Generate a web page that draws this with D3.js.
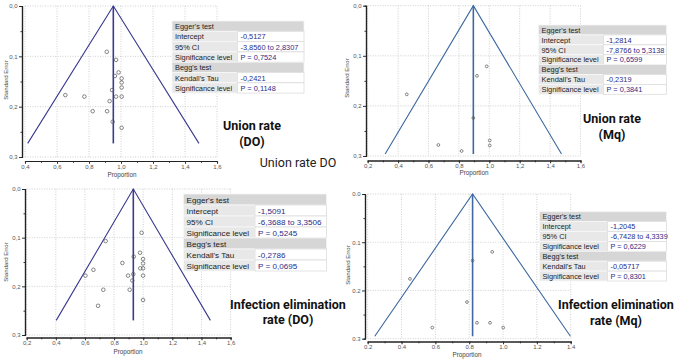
<!DOCTYPE html>
<html>
<head>
<meta charset="utf-8">
<script src="https://cdn.jsdelivr.net/npm/d3@7"></script>
<style>
  body { margin: 0; background: #fff; }
  svg { display: block; }
</style>
</head>
<body>
<div id="chart"></div>
<script>
// tick values
var xTicksA = [0.4, 0.6, 0.8, 1.0, 1.2, 1.4, 1.6]
var xTicksB = [0.2, 0.4, 0.6, 0.8, 1.0, 1.2, 1.4, 1.6]
var xTicksC = [0.2, 0.4, 0.6, 0.8, 1.0, 1.2, 1.4]
var seTicks = [0, 0.1, 0.2, 0.3]

// studies: proportion / standard error
var unionDO_p  = [0.911, 0.969, 0.985, 0.962, 1.004, 1.004, 1.004, 0.944, 0.652, 0.771, 0.969, 1.004, 0.929, 0.823, 0.913, 0.948, 1.004]
var unionDO_se = [0.091, 0.107, 0.132, 0.139, 0.144, 0.152, 0.162, 0.167, 0.177, 0.180, 0.180, 0.180, 0.189, 0.209, 0.209, 0.230, 0.242]

var unionMq_p  = [0.457, 0.983, 0.919, 0.895, 0.665, 0.818, 1.003, 1.003]
var unionMq_se = [0.177, 0.121, 0.140, 0.224, 0.278, 0.290, 0.269, 0.279]

var infDO_p  = [0.989, 0.742, 0.978, 0.935, 0.999, 0.999, 0.857, 0.999, 0.980, 0.658, 0.603, 0.896, 0.999, 0.932, 0.925, 0.726, 0.907, 0.999, 0.690]
var infDO_se = [0.090, 0.107, 0.131, 0.139, 0.144, 0.153, 0.152, 0.163, 0.163, 0.166, 0.178, 0.178, 0.178, 0.175, 0.188, 0.207, 0.207, 0.228, 0.240]

var infMq_p  = [0.936, 0.820, 0.450, 0.787, 0.846, 0.923, 0.582, 1.001]
var infMq_se = [0.120, 0.138, 0.176, 0.224, 0.267, 0.267, 0.277, 0.277]

// pooled proportion and deepest standard error of the funnel
var pooled = [0.952, 0.895, 0.932, 0.820]
var seMax  = [0.273, 0.296, 0.270, 0.295]

// Egger / Begg tables
var tableLabels = ["Egger's test", "Intercept", "95% CI", "Significance level", "Begg's test", "Kendall's Tau", "Significance level"]
var tableValues = [
  ["-0,5127", "-3,8560 to 2,8307", "P = 0,7524", "-0,2421", "P = 0,1148"],
  ["-1,2814", "-7,8766 to 5,3138", "P = 0,6599", "-0,2319", "P = 0,3841"],
  ["-1,5091", "-6,3688 to 3,3506", "P = 0,5245", "-0,2786", "P = 0,0695"],
  ["-1,2045", "-6,7428 to 4,3339", "P = 0,6229", "-0,05717", "P = 0,8301"]
]

var titles = [
  ["Union rate", "(DO)"],
  ["Union rate", "(Mq)"],
  ["Infection elimination", "rate (DO)"],
  ["Infection elimination", "rate (Mq)"]
]
var caption = "Union rate DO"

var svg = d3.select("#chart")
    .append("svg")
    .attr("width", 676)
    .attr("height", 360)

// layout of the four panels
var panels = [
  { p: unionDO_p, se: unionDO_se, ticks: xTicksA, x0: 25, x1: 217, y0: 6, y1: 157, axY: 161, axX: 22,
    color: "#3a3a8e", comma: true, r: 1.8, lblX: 122, lblY: 176.5, seX: 8, seY: 80,
    tb: { x: 172, y: 21, w: 132, lw: 65.5, rh: 10.3, fs: 7.4 },
    tt: { x: 252, y1: 130, y2: 146 } },
  { p: unionMq_p, se: unionMq_se, ticks: xTicksB, x0: 367.7, x1: 580.5, y0: 5.7, y1: 156, axY: 160.5, axX: 366,
    color: "#3d69a0", comma: true, r: 1.4, lblX: 474, lblY: 175, seX: 349, seY: 78,
    tb: { x: 538.5, y: 25, w: 128, lw: 65, rh: 9.9, fs: 7.4 },
    tt: { x: 612, y1: 123, y2: 139 } },
  { p: infDO_p, se: infDO_se, ticks: xTicksB, x0: 26.7, x1: 230.6, y0: 189, y1: 335, axY: 337.5, axX: 25,
    color: "#3a3a8e", comma: true, r: 1.8, lblX: 128, lblY: 353.5, seX: 8, seY: 262,
    tb: { x: 183.5, y: 194, w: 143, lw: 71.5, rh: 11, fs: 8.1 },
    tt: { x: 288, y1: 309, y2: 324 } },
  { p: infMq_p, se: infMq_se, ticks: xTicksC, x0: 367.7, x1: 570.7, y0: 194, y1: 338.7, axY: 341.5, axX: 365,
    color: "#3d69a0", comma: false, r: 1.4, lblX: 467, lblY: 357, seX: 350, seY: 265,
    tb: { x: 539.5, y: 211.7, w: 127, lw: 68, rh: 9.9, fs: 7.3 },
    tt: { x: 616, y1: 309, y2: 325 } }
]

panels.forEach(function(c, k) {
  var g = svg.append("g")
  var x = d3.scaleLinear().domain(d3.extent(c.ticks)).range([c.x0, c.x1])
  var y = d3.scaleLinear().domain([0, 0.3]).range([c.y0, c.y1])
  var fmt = function(d) {
    var s = d3.format(".1f")(d)
    return c.comma ? s.replace(".", ",") : s
  }

  // dotted grid
  g.selectAll(".gx").data(c.ticks).enter().append("line")
      .attr("x1", d => x(d)).attr("x2", d => x(d))
      .attr("y1", y(0)).attr("y2", y(0.3))
      .style("stroke", "#c4c4c4").style("stroke-width", 0.8).style("stroke-dasharray", "1,1.5")
  g.selectAll(".gy").data(seTicks).enter().append("line")
      .attr("x1", x.range()[0]).attr("x2", x.range()[1])
      .attr("y1", d => y(d)).attr("y2", d => y(d))
      .style("stroke", "#c4c4c4").style("stroke-width", 0.8).style("stroke-dasharray", "1,1.5")

  // axes
  var minor = d3.range(c.ticks[0], c.ticks[c.ticks.length - 1] + 0.001, 0.1)
  g.append("g")
      .attr("transform", "translate(0," + c.axY + ")")
      .call(d3.axisBottom(x).tickValues(minor).tickSize(1.8).tickFormat(""))
  g.append("g")
      .attr("transform", "translate(0," + c.axY + ")")
      .call(d3.axisBottom(x).tickValues(c.ticks).tickSize(2.8).tickSizeOuter(0).tickPadding(0.5).tickFormat(fmt))
  g.append("g")
      .attr("transform", "translate(" + c.axX + ",0)")
      .call(d3.axisLeft(y).tickValues(seTicks).tickSize(3).tickSizeOuter(0).tickPadding(1.5).tickFormat(fmt))
  g.append("g")
      .attr("transform", "translate(" + c.axX + ",0)")
      .call(d3.axisLeft(y).tickValues([0.05, 0.15, 0.25]).tickSize(1.5).tickFormat(""))
  g.selectAll(".domain").style("stroke", "#222").style("stroke-width", 1.2)
  g.selectAll(".tick line").style("stroke", "#333")
  g.selectAll(".tick text")
      .style("font-family", "Liberation Sans, Arial, sans-serif")
      .style("font-size", "6px")
      .style("fill", "#555")

  g.append("text")
      .attr("x", c.lblX).attr("y", c.lblY)
      .attr("text-anchor", "middle")
      .style("font-family", "Liberation Sans, Arial, sans-serif")
      .style("font-size", "6.3px").style("fill", "#444")
      .text("Proportion")
  g.append("text")
      .attr("transform", "translate(" + c.seX + "," + c.seY + ") rotate(-90)")
      .attr("text-anchor", "middle")
      .style("font-family", "Liberation Sans, Arial, sans-serif")
      .style("font-size", "6px").style("fill", "#444")
      .text("Standard Error")

  // funnel
  var m = pooled[k], s = seMax[k]
  var funnel = d3.line().x(d => x(d[0])).y(d => y(d[1]))
  g.append("path")
      .attr("d", funnel([[m - 1.96 * s, s], [m, 0], [m + 1.96 * s, s]]))
      .style("fill", "none").style("stroke", c.color).style("stroke-width", 1.1)
  g.append("path")
      .attr("d", funnel([[m, 0], [m, s]]))
      .style("fill", "none").style("stroke", c.color).style("stroke-width", 1.6)

  // studies
  g.selectAll(".pt").data(c.p).enter().append("circle")
      .attr("cx", d => x(d))
      .attr("cy", (d, i) => y(c.se[i]))
      .attr("r", c.r)
      .style("fill", "none")
      .style("stroke", "#555")
      .style("stroke-width", 0.7)

  // Egger / Begg table
  var t = c.tb
  var tg = svg.append("g")
  tableLabels.forEach(function(lab, i) {
    var yy = t.y + i * t.rh
    var header = (i == 0 || i == 4)
    if (header) {
      tg.append("rect").attr("x", t.x).attr("y", yy).attr("width", t.w).attr("height", t.rh)
          .style("fill", "#d6d6d6").style("stroke", "#f4f4f4").style("stroke-width", 0.8)
    } else {
      tg.append("rect").attr("x", t.x).attr("y", yy).attr("width", t.lw).attr("height", t.rh)
          .style("fill", "#e8e8e8").style("stroke", "#f8f8f8").style("stroke-width", 0.8)
      tg.append("rect").attr("x", t.x + t.lw).attr("y", yy).attr("width", t.w - t.lw).attr("height", t.rh)
          .style("fill", "#ffffff").style("stroke", "#dcdcdc").style("stroke-width", 0.8)
    }
    tg.append("text")
        .attr("x", t.x + 3).attr("y", yy + t.rh * 0.78)
        .style("font-family", "Liberation Sans, Arial, sans-serif")
        .style("font-size", t.fs + "px").style("fill", "#222")
        .text(lab)
  })
  var rows = [1, 2, 3, 5, 6]
  tableValues[k].forEach(function(v, j) {
    tg.append("text")
        .attr("x", t.x + t.lw + 3).attr("y", t.y + rows[j] * t.rh + t.rh * 0.78)
        .style("font-family", "Liberation Sans, Arial, sans-serif")
        .style("font-size", t.fs + "px").style("fill", "#2b2b88")
        .text(v)
  })

  // panel title
  titles[k].forEach(function(line, j) {
    svg.append("text")
        .attr("x", c.tt.x).attr("y", j == 0 ? c.tt.y1 : c.tt.y2)
        .attr("text-anchor", "middle")
        .style("font-family", "Roboto, sans-serif")
        .style("font-weight", "bold")
        .style("font-size", "12.5px").style("fill", "#111")
        .text(line)
  })
})

svg.append("text")
    .attr("x", 298).attr("y", 167)
    .attr("text-anchor", "middle")
    .style("font-family", "Roboto, sans-serif")
    .style("font-size", "12.5px").style("fill", "#222")
    .text(caption)
</script>
</body>
</html>
